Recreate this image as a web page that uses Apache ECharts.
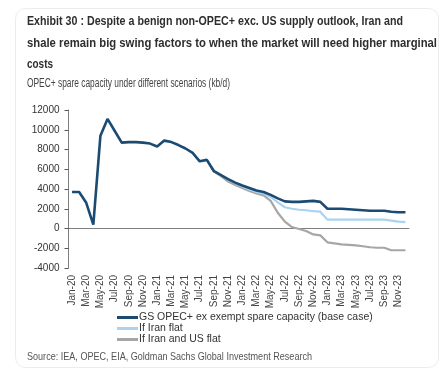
<!DOCTYPE html>
<html>
<head>
<meta charset="utf-8">
<script src="https://cdn.jsdelivr.net/npm/echarts@6/dist/echarts.min.js"></script>
<style>
  html, body { margin: 0; padding: 0; background: #fff; }
  #chart { width: 446px; height: 377px; }
</style>
</head>
<body>
<div id="chart"></div>
<script>
// monthly categories, Jan-20 .. Dec-23
const months = [
  'Jan-20','Feb-20','Mar-20','Apr-20','May-20','Jun-20','Jul-20','Aug-20','Sep-20','Oct-20','Nov-20','Dec-20',
  'Jan-21','Feb-21','Mar-21','Apr-21','May-21','Jun-21','Jul-21','Aug-21','Sep-21','Oct-21','Nov-21','Dec-21',
  'Jan-22','Feb-22','Mar-22','Apr-22','May-22','Jun-22','Jul-22','Aug-22','Sep-22','Oct-22','Nov-22','Dec-22',
  'Jan-23','Feb-23','Mar-23','Apr-23','May-23','Jun-23','Jul-23','Aug-23','Sep-23','Oct-23','Nov-23','Dec-23'
]
// kb/d
const baseCase = [
  3700, 3700, 2600, 400, 9400, 11100, 9900, 8700, 8750, 8750, 8700, 8600,
  8300, 8900, 8750, 8450, 8100, 7650, 6800, 6950, 5800, 5400, 5000, 4650,
  4350, 4100, 3850, 3700, 3400, 3050, 2750, 2700, 2700, 2750, 2800, 2700,
  2000, 2000, 2000, 1950, 1900, 1850, 1800, 1800, 1800, 1700, 1650, 1650
]
const iranFlat = [
  '-', '-', '-', '-', '-', '-', '-', '-', '-', '-', '-', '-',
  '-', '-', '-', '-', '-', '-', '-', 6950, 5800, 5400, 4950, 4600,
  4250, 3950, 3700, 3550, 3200, 2650, 2150, 2000, 1900, 1850, 1750, 1700,
  900, 900, 900, 900, 900, 900, 900, 900, 900, 800, 700, 650
]
const iranUsFlat = [
  '-', '-', '-', '-', '-', '-', '-', '-', '-', '-', '-', '-',
  '-', '-', '-', '-', '-', '-', '-', 6950, 5800, 5300, 4750, 4400,
  4100, 3800, 3550, 3350, 2800, 1600, 700, 150, -50, -250, -600, -700,
  -1400, -1500, -1600, -1650, -1700, -1800, -1900, -1950, -1950, -2200, -2200, -2200
]
const seriesNames = [
  'GS OPEC+ ex exempt spare capacity (base case)',
  'If Iran flat',
  'If Iran and US flat'
]
const seriesColors = ['#1b4a72', '#a9d3f0', '#a6a6a6']
const titleLines = [
  'Exhibit 30 : Despite a benign non-OPEC+ exc. US supply outlook, Iran and',
  'shale remain big swing factors to when the market will need higher marginal',
  'costs'
]
const subTitle = 'OPEC+ spare capacity under different scenarios (kb/d)'
const sourceText = 'Source: IEA, OPEC, EIA, Goldman Sachs Global Investment Research'

const sans = "'Liberation Sans', Arial, sans-serif"

// the original uses a condensed face, squeeze a regular one to the same width
const ctx = document.createElement('canvas').getContext('2d')
function squeezed(text, font, left, top, width, fill) {
  ctx.font = font
  const w = ctx.measureText(text).width
  return {
    type: 'text', x: left, y: top, scaleX: width / w, scaleY: 1,
    style: { text: text, font: font, fill: fill }
  }
}

const chart = echarts.init(document.getElementById('chart'))

const option = {
  animation: false,
  graphic: [
    {
      type: 'rect', z: -10, silent: true,
      shape: { x: 15.5, y: 8.5, width: 423, height: 359, r: 10 },
      style: { fill: '#fff', stroke: '#ececec', lineWidth: 1 }
    },
    squeezed(titleLines[0], 'bold 13.5px ' + sans, 27, 14.5, 376, '#2e2e2e'),
    squeezed(titleLines[1], 'bold 13.5px ' + sans, 27, 36, 410, '#2e2e2e'),
    squeezed(titleLines[2], 'bold 13.5px ' + sans, 27, 57, 26, '#2e2e2e'),
    squeezed(subTitle, '12.5px ' + sans, 27, 77, 203, '#444'),
    squeezed(sourceText, '11.5px ' + sans, 27, 351, 285, '#555')
  ],
  grid: { left: 68.5, right: 37, top: 110, bottom: 109 },
  legend: {
    data: seriesNames,
    orient: 'vertical',
    left: 112, top: 307,
    itemWidth: 21, itemHeight: 3, itemGap: 0,
    icon: 'rect',
    textStyle: { fontFamily: sans, fontSize: 10.5, color: '#333', lineHeight: 9, padding: [0, 0, 0, -4] }
  },
  xAxis: [
    {
      type: 'category',
      data: months,
      boundaryGap: true,
      axisLine: { onZero: true, lineStyle: { color: '#7f7f7f', width: 1 } },
      axisTick: { interval: 1, length: 3, lineStyle: { color: '#555' } },
      axisLabel: { show: false }
    },
    {
      type: 'category',
      data: months,
      position: 'bottom',
      boundaryGap: true,
      axisLine: { show: false, onZero: false },
      axisTick: { show: false },
      axisLabel: {
        interval: 1, rotate: 90, margin: 7,
        fontFamily: sans, fontSize: 10, color: '#444'
      }
    }
  ],
  yAxis: {
    type: 'value',
    min: -4000, max: 12000, interval: 2000,
    splitLine: { show: false },
    axisLine: { show: true, lineStyle: { color: '#7f7f7f' } },
    axisTick: { show: true, length: 4, lineStyle: { color: '#555' } },
    axisLabel: { fontFamily: sans, fontSize: 10, color: '#333', margin: 9, formatter: v => String(v) }
  },
  series: [
    {
      name: seriesNames[2], type: 'line', data: iranUsFlat, xAxisIndex: 0,
      symbol: 'none', itemStyle: { color: seriesColors[2] },
      lineStyle: { width: 2.2, color: seriesColors[2] }, z: 2
    },
    {
      name: seriesNames[1], type: 'line', data: iranFlat, xAxisIndex: 0,
      symbol: 'none', itemStyle: { color: seriesColors[1] },
      lineStyle: { width: 2.2, color: seriesColors[1] }, z: 3
    },
    {
      name: seriesNames[0], type: 'line', data: baseCase, xAxisIndex: 0,
      symbol: 'none', itemStyle: { color: seriesColors[0] },
      lineStyle: { width: 2.6, color: seriesColors[0] }, z: 4
    }
  ]
}
chart.setOption(option)
</script>
</body>
</html>
